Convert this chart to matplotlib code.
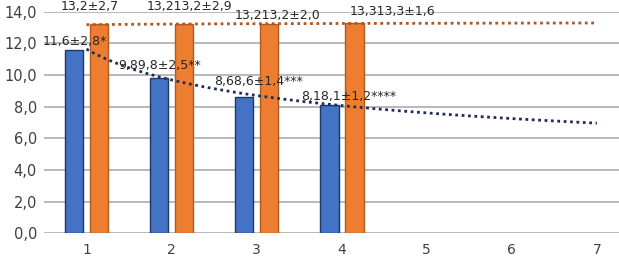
import numpy as np
import matplotlib
matplotlib.use("Agg")
import matplotlib.pyplot as plt

categories = [1, 2, 3, 4, 5, 6, 7]
blue_vals = [11.6, 9.8, 8.6, 8.1]
orange_vals = [13.2, 13.2, 13.2, 13.3]
blue_labels = ["11,6±2,8*", "9,89,8±2,5**", "8,68,6±1,4***", "8,18,1±1,2****"]
orange_labels = ["13,2±2,7", "13,213,2±2,9", "13,213,2±2,0", "13,313,3±1,6"]
yticks = [0, 2, 4, 6, 8, 10, 12, 14]
ytick_labels = ["0,0", "2,0", "4,0", "6,0", "8,0", "10,0", "12,0", "14,0"]

# label positions (data coords)
blue_label_pos = [(0.86, 12.10), (1.86, 10.63), (3.02, 9.58), (4.08, 8.63)]
orange_label_pos = [(1.04, 14.31), (2.21, 14.31), (3.25, 13.79), (4.60, 14.0)]

fig = plt.figure(figsize=(6.19, 2.62), dpi=100)
ax = fig.add_axes([0.071, 0.1095, 0.929, 0.8458])

n = len(blue_vals)
x = np.arange(1, n + 1)
off = 0.147
w = 0.22
ax.bar(x - off, blue_vals, width=w, color="#4472c4", edgecolor="#1f3864", linewidth=1.0, zorder=2)
ax.bar(x + off, orange_vals, width=w, color="#ed7d31", edgecolor="#ae5a21", linewidth=1.0, zorder=2)

# power trendlines fitted from the data
xt = np.linspace(1, 7, 200)
for vals, col in [(blue_vals, "#1f2d5c"), (orange_vals, "#b4541e")]:
    b, lna = np.polyfit(np.log(x), np.log(vals), 1)
    yt = np.exp(lna) * xt ** b
    ax.plot(xt, yt, linestyle=(0, (1, 1.3)), color=col, linewidth=2.0, zorder=3)

for (px, py), t in zip(blue_label_pos, blue_labels):
    ax.text(px, py, t, ha="center", va="center", fontsize=9, color="#262626", clip_on=False, zorder=4)
for (px, py), t in zip(orange_label_pos, orange_labels):
    ax.text(px, py, t, ha="center", va="center", fontsize=9, color="#262626", clip_on=False, zorder=4)

ax.set_xlim(0.5, 7.26)
ax.set_ylim(0, 14)
ax.set_yticks(yticks)
ax.set_yticklabels(ytick_labels)
ax.set_xticks(categories)
ax.set_xticklabels([str(c) for c in categories])
ax.tick_params(axis="y", length=0, pad=5, labelsize=10.5, labelcolor="#404040")
ax.tick_params(axis="x", length=0, pad=7, labelsize=10, labelcolor="#404040")
ax.grid(axis="y", color="#b3b3b3", linewidth=1.3, zorder=0)
ax.set_axisbelow(True)
for s in ax.spines.values():
    s.set_visible(False)

fig.savefig("out.png", dpi=100)
